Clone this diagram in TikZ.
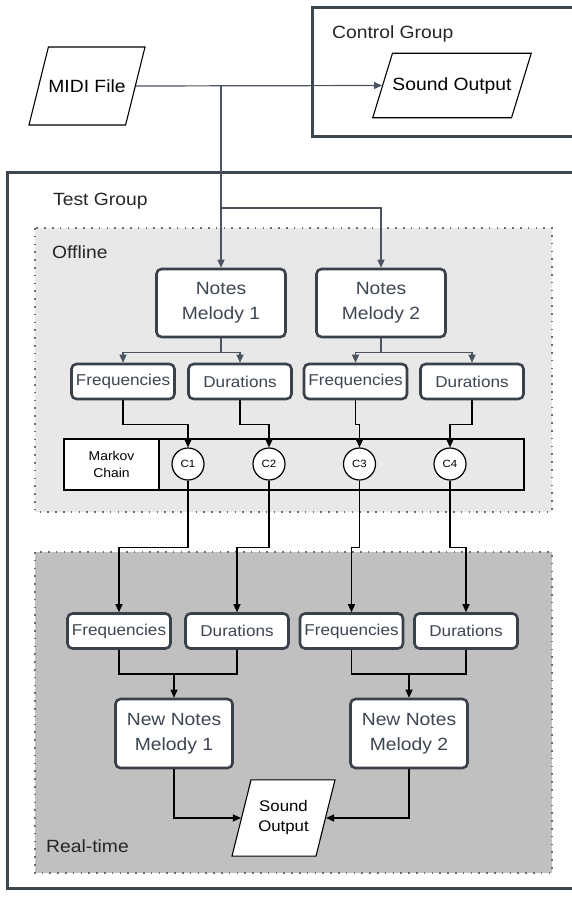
\documentclass[tikz,border=0pt]{standalone}
\usepackage{fontspec}
\setmainfont{Liberation Sans}[FakeStretch=1.09]
\usetikzlibrary{shapes.geometric,arrows.meta}

\definecolor{Frame}{HTML}{3E464F}
\definecolor{BoxLine}{HTML}{3A414A}
\definecolor{BoxText}{HTML}{3D4652}
\definecolor{Wire}{HTML}{4A5360}
\definecolor{OfflineBg}{HTML}{E8E8E8}
\definecolor{RealtimeBg}{HTML}{C0C0C0}
\definecolor{Dots}{HTML}{6E6E6E}

\begin{document}
\begin{tikzpicture}[x=1pt, y=-1pt,
  group/.style={draw=Frame, line width=3},
  zone/.style={draw=Dots, line width=1.6, dash pattern=on 1.6pt off 6.2pt},
  lbl/.style={inner sep=0, anchor=base west, text=black!85, font=\fontsize{17.7}{21}\selectfont},
  notes/.style={draw=BoxLine, line width=2.6, rounded corners=5, fill=white, text=BoxText, align=center,
    minimum width=129, minimum height=68, font=\fontsize{17.7}{25}\selectfont},
  part/.style={draw=BoxLine, line width=2.6, rounded corners=5, fill=white, text=BoxText,
    minimum width=103, minimum height=35, inner sep=0, font=\fontsize{15.7}{19}\selectfont},
  io/.style={shape=trapezium, trapezium left angle=#1, trapezium right angle=180-#1, trapezium stretches body=true,
    draw=black, line width=1.1, fill=white, align=center, inner xsep=0},
  io/.default=76,
  chain/.style={circle, draw=black, line width=1.2, fill=white, minimum size=32, inner sep=0,
    font=\fontsize{10.5}{12}\selectfont},
  wire/.style={draw=Wire, line width=1.2},
  feed/.style={wire, -{Triangle[length=8pt,width=7pt]}},
  link/.style={draw=black, line width=1.2},
  flow/.style={link, -{Triangle[length=8pt,width=7pt]}}]

 \useasboundingbox (0,0) rectangle (572,899);

 %%%%%%%%%% Zones %%%%%%%%%%
 \fill [OfflineBg] (35,228) rectangle (552,512);
 \draw [zone] (35,228) rectangle (552,512);
 \fill [RealtimeBg] (35,552) rectangle (552,873);
 \draw [zone] (35,552) rectangle (552,873);

 %%%%%%%%%% Groups %%%%%%%%%%
 \draw [group] (312,8) rectangle (590,136);
 \draw [group] (7,172) rectangle (590,888);

 \node [lbl] (ctrlLbl) at (332,38) {Control Group};
 \node [lbl] (testLbl) at (53,205) {Test Group};
 \node [lbl] (offLbl) at (52,258) {Offline};
 \node [lbl] (rtLbl) at (46,852) {Real-time};

 %%%%%%%%%% Input / outputs %%%%%%%%%%
 \node [io=76, inner ysep=32.5, minimum width=104, font=\fontsize{17.7}{21}\selectfont] (midi) at (87,86) {MIDI File};
 \node [io=73, inner ysep=24, minimum width=152, font=\fontsize{17.7}{21}\selectfont] (ctrlsnd) at (452,85.5) {Sound Output};
 \node [io=76, inner ysep=21, minimum width=103, font=\fontsize{15.4}{20}\selectfont] (sndRT) at (283.5,818) {Sound\\Output};

 %%%%%%%%%% Offline %%%%%%%%%%
 \node [notes] (notesA) at (221,303) {Notes\\Melody 1};
 \node [notes] (notesB) at (381,303) {Notes\\Melody 2};

 \node [part] (freqA) at (123,381.5) {Frequencies};
 \node [part] (durA) at (240,381.5) {Durations};
 \node [part] (freqB) at (355.5,381.5) {Frequencies};
 \node [part] (durB) at (472,381.5) {Durations};

 \node [draw=black, line width=1.3, minimum width=460, minimum height=51] (bar) at (294,464.5) {};
 \node [draw=black, line width=1.3, fill=white, minimum width=95, minimum height=51, align=center,
   font=\fontsize{12.8}{17}\selectfont] (mk) at (111.5,464.5) {Markov\\Chain};

 \foreach \i/\x in {1/188,2/269,3/359.5,4/450}
 {
   \node [chain] (c\i) at (\x,464) {C\i};
 }

 %%%%%%%%%% Real-time %%%%%%%%%%
 \node [part] (freqC) at (119,631) {Frequencies};
 \node [part] (durC) at (237,631) {Durations};
 \node [part] (freqD) at (351.5,631) {Frequencies};
 \node [part] (durD) at (466,631) {Durations};

 \node [notes, minimum width=117, minimum height=69] (nnA) at (174,733.5) {New Notes\\Melody 1};
 \node [notes, minimum width=117, minimum height=69] (nnB) at (409,733.5) {New Notes\\Melody 2};

 %%%%%%%%%% Connectors %%%%%%%%%%
 \coordinate (split) at (221,208);
 \coordinate (joinA) at (174,674);
 \coordinate (joinB) at (409,674);

 \draw [feed] (midi.east) -- (ctrlsnd.west);
 \draw [feed] (midi.east -| notesA.north) -- (notesA.north);
 \draw [feed] (split) -| (notesB.north);

 \draw [feed] (notesA.south) -- ++(0,14) -| (freqA.north);
 \draw [feed] (notesA.south) -- ++(0,14) -| (durA.north);
 \draw [feed] (notesB.south) -- ++(0,14) -| (freqB.north);
 \draw [feed] (notesB.south) -- ++(0,14) -| (durB.north);

 \draw [flow] (freqA.south) -- ++(0,24) -| (c1.north);
 \draw [flow] (durA.south) -- ++(0,24) -| (c2.north);
 \draw [flow] (freqB.south) -- ++(0,24) -| (c3.north);
 \draw [flow] (durB.south) -- ++(0,24) -| (c4.north);

 \draw [flow] (c1.south) -- ++(0,67) -| (freqC.north);
 \draw [flow] (c2.south) -- ++(0,67) -| (durC.north);
 \draw [flow] (c3.south) -- ++(0,67) -| (freqD.north);
 \draw [flow] (c4.south) -- ++(0,67) -| (durD.north);

 \draw [link] (freqC.south) |- (joinA) -| (durC.south);
 \draw [flow] (joinA) -- (nnA.north);
 \draw [link] (freqD.south) |- (joinB) -| (durD.south);
 \draw [flow] (joinB) -- (nnB.north);

 \draw [flow] (nnA.south) |- (sndRT.west);
 \draw [flow] (nnB.south) |- (sndRT.east);

\end{tikzpicture}
\end{document}
